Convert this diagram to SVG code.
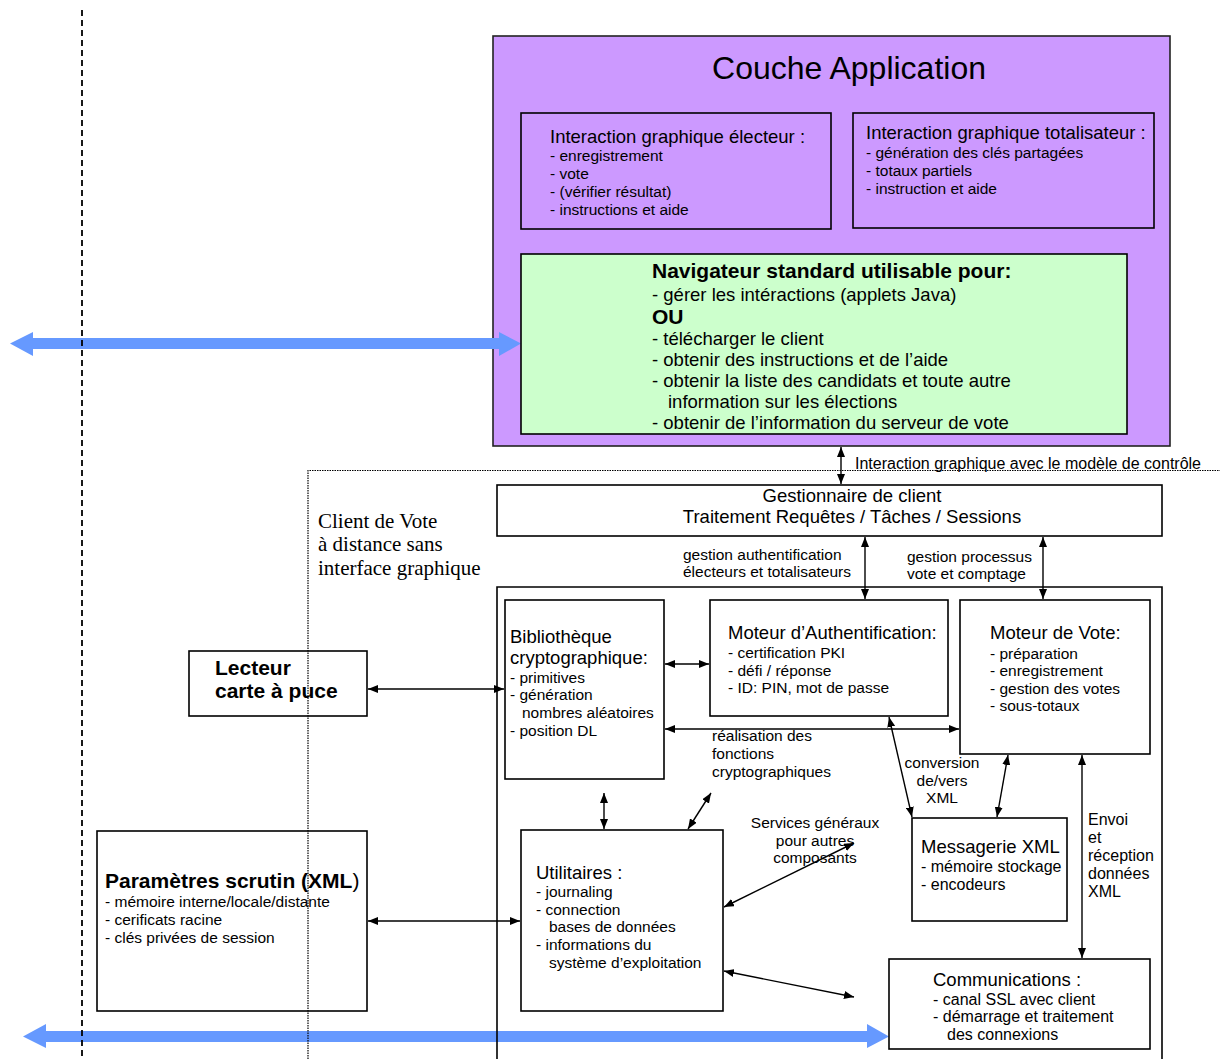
<svg xmlns="http://www.w3.org/2000/svg" width="1220" height="1059" viewBox="0 0 1220 1059">
  <style>
    text { font-family: "Liberation Sans", Arial, sans-serif; fill: #000; }
    .h { font-size: 18.5px; }
    .s { font-size: 15.5px; }
    .m { font-size: 16px; }
    .b { font-size: 21px; font-weight: bold; }
    .serif { font-family: "Liberation Serif", "Times New Roman", serif; font-size: 21px; }
    .box { fill: #fff; stroke: #000; stroke-width: 1.6; }
    .lnk { stroke: #000; stroke-width: 1.4; fill: none; marker-start: url(#ah); marker-end: url(#ah); }
    .blue { fill: #6699FF; }
  </style>
  <defs>
    <marker id="ah" viewBox="0 0 10 8" refX="10" refY="4" markerWidth="10" markerHeight="8" markerUnits="userSpaceOnUse" orient="auto-start-reverse">
      <path d="M0,0 L10,4 L0,8 z" fill="#000"/>
    </marker>
  </defs>

  <rect width="1220" height="1059" fill="#fff"/>

  <!-- application layer -->
  <g id="couche-application">
    <rect x="493" y="36" width="677" height="410" fill="#CC99FF" stroke="#222" stroke-width="1.6"/>
    <text x="849" y="79" font-size="32" text-anchor="middle">Couche Application</text>
  </g>

  <g id="interaction-electeur">
    <rect x="521" y="113" width="310" height="116" fill="none" stroke="#000" stroke-width="1.6"/>
    <text class="h" x="550" y="143">Interaction graphique électeur :</text>
    <text class="s" x="550" y="161">- enregistrement</text>
    <text class="s" x="550" y="179">- vote</text>
    <text class="s" x="550" y="197">- (vérifier résultat)</text>
    <text class="s" x="550" y="215">- instructions et aide</text>
  </g>

  <g id="interaction-totalisateur">
    <rect x="853" y="113" width="301" height="115" fill="none" stroke="#000" stroke-width="1.6"/>
    <text class="h" x="866" y="139">Interaction graphique totalisateur :</text>
    <text class="s" x="866" y="158">- génération des clés partagées</text>
    <text class="s" x="866" y="176">- totaux partiels</text>
    <text class="s" x="866" y="194">- instruction et aide</text>
  </g>

  <!-- wide blue double arrows -->
  <g id="flux-externes">
    <polygon class="blue" points="10,343.5 33,332 33,338 499,338 499,332 521,343.5 499,356 499,349 33,349 33,356"/>
    <polygon class="blue" points="23,1036.5 46,1024 46,1031 867,1031 867,1024 889,1036.5 867,1048 867,1042 46,1042 46,1048"/>
  </g>

  <g id="navigateur">
    <rect x="521" y="254" width="606" height="180" fill="#CCFFCC" stroke="#000" stroke-width="1.6"/>
    <text class="b" x="652" y="278">Navigateur standard utilisable pour:</text>
    <text class="h" x="652" y="301">- gérer les intéractions (applets Java)</text>
    <text class="b" x="652" y="324">OU</text>
    <text class="h" x="652" y="345">- télécharger le client</text>
    <text class="h" x="652" y="366">- obtenir des instructions et de l’aide</text>
    <text class="h" x="652" y="387">- obtenir la liste des candidats et toute autre</text>
    <text class="h" x="668" y="408">information sur les élections</text>
    <text class="h" x="652" y="429">- obtenir de l’information du serveur de vote</text>
  </g>

  <g id="client-label">
    <text class="serif" x="318" y="528">Client de Vote</text>
    <text class="serif" x="318" y="551">à distance sans</text>
    <text class="serif" x="318" y="575">interface graphique</text>
  </g>

  <text class="m" x="855" y="469">Interaction graphique avec le modèle de contrôle</text>

  <g id="gestionnaire-client">
    <rect class="box" x="497" y="485" width="665" height="51"/>
    <text class="h" x="852" y="502" text-anchor="middle">Gestionnaire de client</text>
    <text class="h" x="852" y="523" text-anchor="middle">Traitement Requêtes / Tâches / Sessions</text>
  </g>

  <text class="s" x="683" y="560">gestion authentification</text>
  <text class="s" x="683" y="577">électeurs et totalisateurs</text>
  <text class="s" x="907" y="562">gestion processus</text>
  <text class="s" x="907" y="579">vote et comptage</text>

  <!-- client core frame (runs off the bottom edge) -->
  <g id="noyau-client">
    <polyline points="497,1059 497,587 1162,587 1162,1059" fill="none" stroke="#000" stroke-width="1.6"/>
  </g>

  <g id="bibliotheque">
    <rect class="box" x="505" y="600" width="159" height="179"/>
    <text class="h" x="510" y="643">Bibliothèque</text>
    <text class="h" x="510" y="664">cryptographique:</text>
    <text class="s" x="510" y="683">- primitives</text>
    <text class="s" x="510" y="700">- génération</text>
    <text class="s" x="522" y="718">nombres aléatoires</text>
    <text class="s" x="510" y="736">- position DL</text>
  </g>

  <g id="moteur-authentification">
    <rect class="box" x="710" y="600" width="238" height="116"/>
    <text class="h" x="728" y="639">Moteur d’Authentification:</text>
    <text class="s" x="728" y="658">- certification PKI</text>
    <text class="s" x="728" y="676">- défi / réponse</text>
    <text class="s" x="728" y="693">- ID: PIN, mot de passe</text>
  </g>

  <g id="moteur-vote">
    <rect class="box" x="960" y="600" width="190" height="154"/>
    <text class="h" x="990" y="639">Moteur de Vote:</text>
    <text class="s" x="990" y="659">- préparation</text>
    <text class="s" x="990" y="676">- enregistrement</text>
    <text class="s" x="990" y="694">- gestion des votes</text>
    <text class="s" x="990" y="711">- sous-totaux</text>
  </g>

  <g id="lecteur-carte">
    <rect class="box" x="189" y="651" width="178" height="65"/>
    <text class="b" x="215" y="675">Lecteur</text>
    <text class="b" x="215" y="698">carte à puce</text>
  </g>

  <g id="messagerie-xml">
    <rect class="box" x="912" y="818" width="155" height="103"/>
    <text class="h" x="921" y="853">Messagerie XML</text>
    <text class="m" x="921" y="872">- mémoire stockage</text>
    <text class="m" x="921" y="890">- encodeurs</text>
  </g>

  <g id="utilitaires">
    <rect class="box" x="521" y="830" width="202" height="181"/>
    <text class="h" x="536" y="879">Utilitaires :</text>
    <text class="s" x="536" y="897">- journaling</text>
    <text class="s" x="536" y="915">- connection</text>
    <text class="s" x="549" y="932">bases de données</text>
    <text class="s" x="536" y="950">- informations du</text>
    <text class="s" x="549" y="968">système d’exploitation</text>
  </g>

  <g id="parametres-scrutin">
    <rect class="box" x="97" y="831" width="270" height="180"/>
    <text class="b" x="105" y="888">Paramètres scrutin (XML<tspan font-weight="normal">)</tspan></text>
    <text class="s" x="105" y="907">- mémoire interne/locale/distante</text>
    <text class="s" x="105" y="925">- cerificats racine</text>
    <text class="s" x="105" y="943">- clés privées de session</text>
  </g>

  <g id="communications">
    <rect class="box" x="889" y="959" width="261" height="90"/>
    <text class="h" x="933" y="986">Communications :</text>
    <text class="m" x="933" y="1005">- canal SSL avec client</text>
    <text class="m" x="933" y="1022">- démarrage et traitement</text>
    <text class="m" x="947" y="1040">des connexions</text>
  </g>

  <!-- boundary lines, drawn over the boxes they cross -->
  <g id="limites" fill="none">
    <line x1="82" y1="10" x2="82" y2="1059" stroke="#000" stroke-width="1.8" stroke-dasharray="6 4"/>
    <polyline points="308,1059 308,470.5 1220,470.5" stroke="#000" stroke-width="1.2" stroke-dasharray="1.5 1"/>
  </g>

  <!-- connector labels -->
  <g id="etiquettes">
    <text class="s" x="712" y="741">réalisation des</text>
    <text class="s" x="712" y="759">fonctions</text>
    <text class="s" x="712" y="777">cryptographiques</text>
    <text class="s" x="942" y="768" text-anchor="middle">conversion</text>
    <text class="s" x="942" y="786" text-anchor="middle">de/vers</text>
    <text class="s" x="942" y="803" text-anchor="middle">XML</text>
    <text class="m" x="1088" y="825">Envoi</text>
    <text class="m" x="1088" y="843">et</text>
    <text class="m" x="1088" y="861">réception</text>
    <text class="m" x="1088" y="879">données</text>
    <text class="m" x="1088" y="897">XML</text>
    <text class="s" x="815" y="828" text-anchor="middle">Services généraux</text>
    <text class="s" x="815" y="846" text-anchor="middle">pour autres</text>
    <text class="s" x="815" y="863" text-anchor="middle">composants</text>
  </g>

  <!-- connectors -->
  <g id="connecteurs">
    <line class="lnk" x1="841" y1="447" x2="841" y2="484"/>
    <line class="lnk" x1="865" y1="537" x2="865" y2="599"/>
    <line class="lnk" x1="1043" y1="537" x2="1043" y2="599"/>
    <line class="lnk" x1="665" y1="664" x2="709" y2="664"/>
    <line class="lnk" x1="665" y1="729" x2="959" y2="729"/>
    <line class="lnk" x1="368" y1="689" x2="504" y2="689"/>
    <line class="lnk" x1="889" y1="717" x2="912" y2="817"/>
    <line class="lnk" x1="1008" y1="755" x2="997" y2="817"/>
    <line class="lnk" x1="1082" y1="755" x2="1082" y2="958"/>
    <line class="lnk" x1="604" y1="793" x2="604" y2="829"/>
    <line class="lnk" x1="711" y1="793" x2="688" y2="829"/>
    <line class="lnk" x1="724" y1="907" x2="854" y2="843"/>
    <line class="lnk" x1="724" y1="971" x2="854" y2="997"/>
    <line class="lnk" x1="368" y1="921" x2="520" y2="921"/>
  </g>
</svg>
